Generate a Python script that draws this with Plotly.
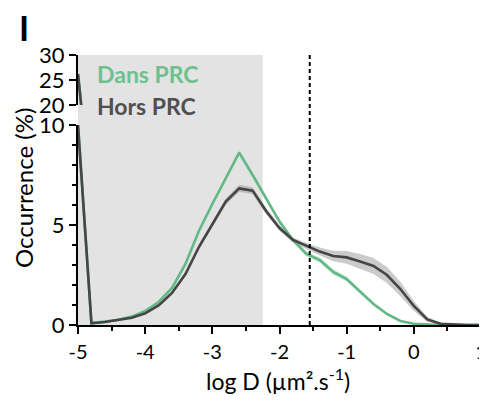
import numpy as np
import plotly.graph_objects as go

# ---- data ----
log_d = [-5.0, -4.8, -4.6, -4.4, -4.2, -4.0, -3.8, -3.6, -3.4, -3.2, -3.0,
         -2.8, -2.6, -2.4, -2.2, -2.0, -1.8, -1.6, -1.4, -1.2, -1.0,
         -0.8, -0.6, -0.4, -0.2, 0.0, 0.2, 0.4, 0.6, 0.8, 1.0]
dans_prc = [26.2, 0.1, 0.17, 0.26, 0.42, 0.7, 1.15, 1.85, 3.05, 4.7, 6.05,
            7.35, 8.62, 7.5, 6.35, 5.17, 4.25, 3.55, 3.25, 2.65, 2.3,
            1.65, 1.05, 0.55, 0.2, 0.06, 0.02, 0.0, 0.0, 0.0, 0.0]
dans_sem = [0, 0.01, 0.02, 0.02, 0.03, 0.04, 0.05, 0.06, 0.08, 0.1, 0.1,
            0.12, 0.12, 0.12, 0.12, 0.12, 0.12, 0.13, 0.14, 0.14, 0.13,
            0.1, 0.08, 0.06, 0.04, 0.02, 0.01, 0, 0, 0, 0]
hors_prc = [26.2, 0.08, 0.15, 0.24, 0.36, 0.58, 0.98, 1.6, 2.55, 3.9, 5.0,
            6.17, 6.83, 6.72, 5.7, 4.85, 4.25, 3.95, 3.67, 3.45, 3.38,
            3.17, 2.95, 2.5, 1.8, 0.95, 0.28, 0.06, 0.02, 0.0, 0.0]
hors_sem = [0, 0.02, 0.02, 0.03, 0.04, 0.05, 0.06, 0.08, 0.1, 0.12, 0.14,
            0.16, 0.18, 0.17, 0.16, 0.14, 0.13, 0.15, 0.2, 0.26, 0.32,
            0.38, 0.4, 0.4, 0.36, 0.25, 0.12, 0.05, 0.02, 0, 0]

x_ticks = [-5, -4, -3, -2, -1, 0, 1]
lower_range = [0, 10]
upper_range = [20, 30]
lower_ticks = [0, 5, 10]
upper_ticks = [20, 25, 30]
shade_range = [-5, -2.25]
threshold = -1.55

GREEN = "#63b985"
GREEN_BAND = "rgba(110,190,140,0.35)"
GRAY = "#454545"
GRAY_BAND = "rgba(140,140,140,0.45)"
FONT = "Lato"

fig = go.Figure()

def series_xy(y, sem, cap=None):
    x = np.array(log_d)
    y = np.array(y, dtype=float)
    s = np.array(sem, dtype=float)
    if cap is not None:
        # broken axis: values above the lower segment are pinned to its top
        y = np.minimum(y, cap)
    return x, y, s

def add_band(y, sem, band, yaxis, cap=None):
    x, y, s = series_xy(y, sem, cap)
    fig.add_trace(go.Scatter(
        x=np.concatenate([x, x[::-1]]),
        y=np.concatenate([y + s, (y - s)[::-1]]),
        fill="toself", fillcolor=band, line=dict(width=0),
        mode="lines", hoverinfo="skip", showlegend=False, yaxis=yaxis))

def add_line(y, sem, color, yaxis, cap=None):
    x, y, s = series_xy(y, sem, cap)
    fig.add_trace(go.Scatter(x=x, y=y, mode="lines",
                             line=dict(color=color, width=2.6),
                             showlegend=False, yaxis=yaxis))

for ax, cap in [("y", lower_range[1]), ("y2", None)]:
    add_band(dans_prc, dans_sem, GREEN_BAND, ax, cap)
    add_band(hors_prc, hors_sem, GRAY_BAND, ax, cap)
    add_line(dans_prc, dans_sem, GREEN, ax, cap)
    add_line(hors_prc, hors_sem, GRAY, ax, cap)

# page has an 8px body margin; figure sized so the page does not scroll
OFF = 8
W, H = 479, 387
l, r, t, b = 70, 6, 47, 70
pw, ph = W - l - r, H - t - b

def px_to_paper_x(px):
    return (px - OFF - l) / pw

def px_to_paper_y(py):
    return (H - b - (py - OFF)) / ph

axis_common = dict(showline=True, linewidth=2, linecolor="black",
                   ticks="outside", ticklen=7, tickwidth=2, tickcolor="black",
                   showgrid=False, zeroline=False, automargin=False,
                   ticklabelstandoff=0, ticklabeloverflow="allow",
                   tickfont=dict(family=FONT, size=22, color="black"))

fig.update_layout(
    width=W, height=H,
    margin=dict(l=l, r=r, t=t, b=b, pad=0, autoexpand=False),
    paper_bgcolor="white", plot_bgcolor="white",
    showlegend=False,
    xaxis=dict(range=[-5, 1], tickvals=x_ticks,
               ticktext=[str(v) for v in x_ticks],
               minor=dict(dtick=0.5, tick0=-5, ticks="outside", ticklen=4,
                          tickwidth=2, tickcolor="black"),
               **{**axis_common, "tickfont": dict(family=FONT, size=20, color="black"),
                  "ticklabelstandoff": 1}),
    yaxis=dict(domain=[0, px_to_paper_y(125)], range=lower_range,
               tickvals=lower_ticks, anchor="x",
               minor=dict(dtick=1, tick0=0, ticks="outside", ticklen=4,
                          tickwidth=2, tickcolor="black"),
               **axis_common),
    yaxis2=dict(domain=[px_to_paper_y(105), 1], range=upper_range,
                tickvals=upper_ticks, anchor="x", **axis_common),
)

fig.add_shape(type="rect", xref="x", yref="paper",
              x0=shade_range[0], x1=shade_range[1], y0=0, y1=1,
              fillcolor="#e3e3e3", line=dict(width=0), layer="below")
fig.add_shape(type="line", xref="x", yref="paper",
              x0=threshold, x1=threshold, y0=0, y1=1,
              line=dict(color="black", width=2, dash="4px,3px"))

fig.add_annotation(text="Dans PRC", xref="paper", yref="paper",
                   x=px_to_paper_x(95), y=px_to_paper_y(74),
                   xanchor="left", yanchor="middle", showarrow=False,
                   font=dict(family=FONT, size=23, color="#6fc08f", weight="bold"))
fig.add_annotation(text="Hors PRC", xref="paper", yref="paper",
                   x=px_to_paper_x(95), y=px_to_paper_y(106),
                   xanchor="left", yanchor="middle", showarrow=False,
                   font=dict(family=FONT, size=23, color="#505050", weight="bold"))
fig.add_annotation(text="Occurrence (%)", xref="paper", yref="paper",
                   x=px_to_paper_x(23), y=px_to_paper_y(188),
                   xanchor="center", yanchor="middle", textangle=-90,
                   showarrow=False, font=dict(family=FONT, size=24, color="black"))
fig.add_annotation(text="log D (µm².s<sup>-1</sup>)", xref="paper", yref="paper",
                   x=px_to_paper_x(278), y=px_to_paper_y(379),
                   xanchor="center", yanchor="middle",
                   showarrow=False, font=dict(family=FONT, size=23, color="black"))
fig.add_annotation(text="<b>I</b>", xref="paper", yref="paper",
                   x=px_to_paper_x(24), y=px_to_paper_y(27),
                   xanchor="center", yanchor="middle",
                   showarrow=False, font=dict(family=FONT, size=34, color="black"))

fig.write_html("out.html")
